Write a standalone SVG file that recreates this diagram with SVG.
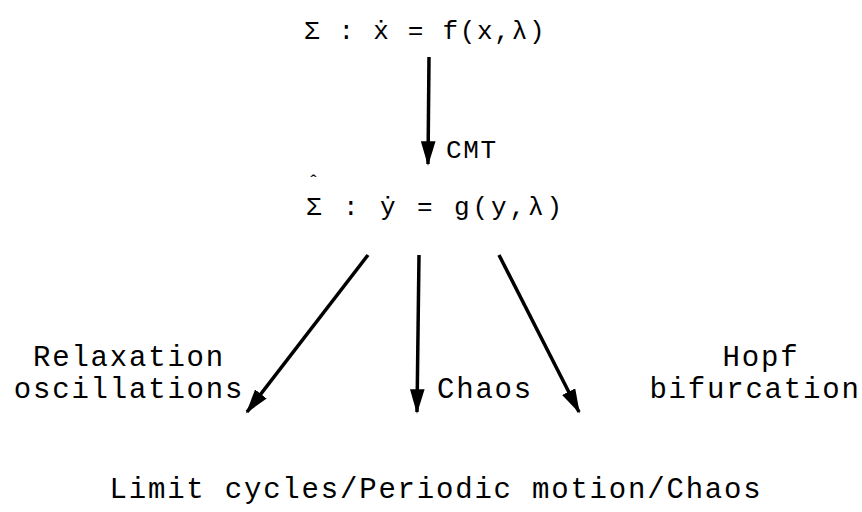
<svg xmlns="http://www.w3.org/2000/svg" width="862" height="512" viewBox="0 0 862 512">
  <defs>
    <marker id="ah" markerWidth="7" markerHeight="4.2" refX="6.5" refY="2.1" orient="auto" markerUnits="strokeWidth">
      <path d="M0,0 L7,2.1 L0,4.2 Z" fill="#000"/>
    </marker>
    <style>
      text { font-family: "Liberation Mono", "DejaVu Sans Mono", monospace; fill: #000; }
      .eq { font-size: 26px; letter-spacing: 1.7px; }
      .lbl { font-size: 29px; letter-spacing: 1.8px; }
      .mid { text-anchor: middle; }
      .conn { stroke: #000; stroke-width: 3.5; fill: none; marker-end: url(#ah); }
    </style>
  </defs>
  <rect width="862" height="512" fill="#fff"/>

  <g id="system">
    <text class="eq" x="304" y="39">Σ : ẋ = f(x,λ)</text>
  </g>
  <g id="reduced">
    <text class="eq" x="306" y="215" style="letter-spacing:2.9px">Σ : ẏ = g(y,λ)</text>
    <text x="308" y="188" style="font-size:18px">ˆ</text>
  </g>
  <g id="result">
    <text class="lbl mid" x="436" y="498">Limit cycles/Periodic motion/Chaos</text>
  </g>

  <g id="connectors">
    <line class="conn" x1="429" y1="57" x2="428" y2="164"/>
    <line class="conn" x1="368" y1="255" x2="247" y2="412"/>
    <line class="conn" x1="419" y1="255" x2="417" y2="412"/>
    <line class="conn" x1="499" y1="255" x2="579" y2="412"/>
  </g>

  <g id="labels">
    <text class="eq" x="446" y="158">CMT</text>
    <text class="lbl mid" x="129" y="366">Relaxation</text>
    <text class="lbl mid" x="129" y="398">oscillations</text>
    <text class="lbl" x="437" y="398">Chaos</text>
    <text class="lbl mid" x="761" y="366">Hopf</text>
    <text class="lbl mid" x="755" y="398">bifurcation</text>
  </g>
</svg>
